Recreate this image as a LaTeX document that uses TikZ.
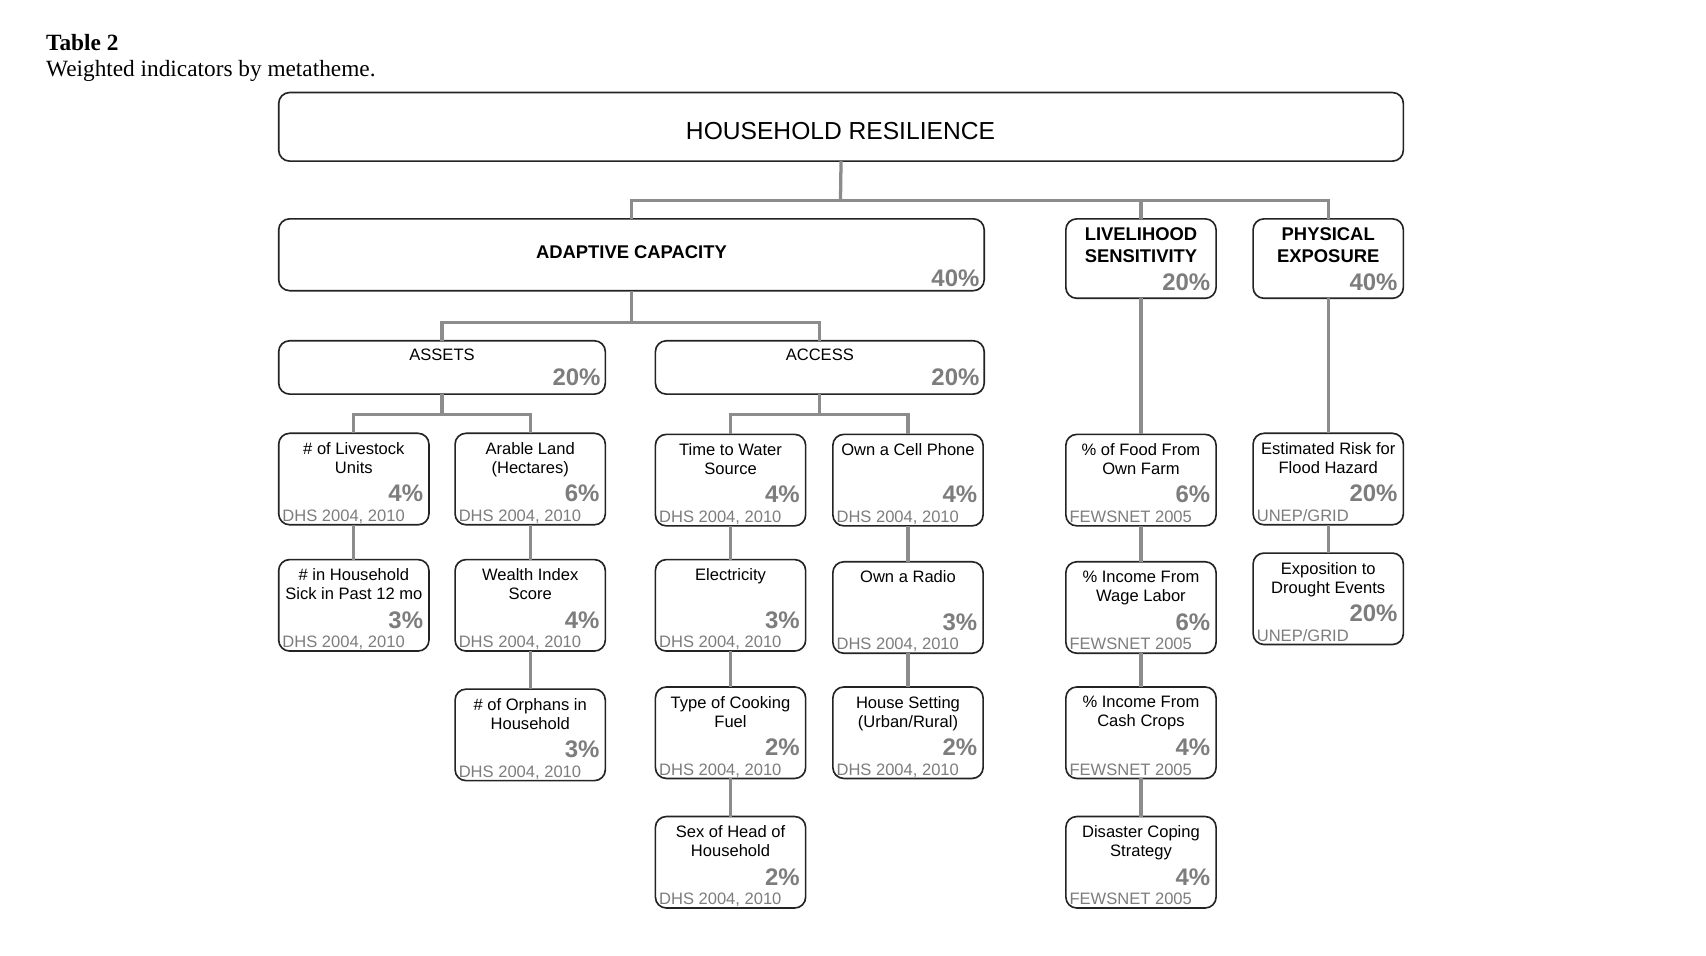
\documentclass[tikz,border=0pt]{standalone}
\usepackage{fontspec}
\setmainfont{Liberation Sans}
\newfontfamily\capfont{Liberation Serif}
\usepackage{xcolor}
\definecolor{linegray}{RGB}{140,140,140}
\definecolor{pctgray}{RGB}{125,125,125}
\definecolor{boxline}{RGB}{35,35,35}

% indicator box: name, left, top, title, weight, source
\newcommand{\indicator}[6]{%
  \node[indbox] (#1) at (#2,#3) {};
  \node[indtitle] at ([yshift=-4pt]#1.north) {#4};
  \node[weight] at ([xshift=-2.5pt,yshift=10.5pt]#1.south east) {#5};
  \node[source] at ([xshift=1.5pt,yshift=1.5pt]#1.south west) {#6};
}

\begin{document}
\begin{tikzpicture}[x=0.5pt,y=-0.5pt,
    bigbox/.style={draw=boxline, line width=0.75pt, rounded corners=5pt, inner sep=0, outer sep=0, anchor=north west},
    indbox/.style={bigbox, minimum width=69pt, minimum height=42pt},
    indtitle/.style={anchor=north, inner sep=0, align=center, font=\fontsize{7.6}{8.75}\selectfont},
    headtitle/.style={anchor=north, inner sep=0, align=center, font=\fontsize{8.45}{10}\selectfont\bfseries},
    weight/.style={anchor=base east, inner sep=0, text=pctgray, font=\fontsize{11}{13}\selectfont\bfseries},
    source/.style={anchor=base west, inner sep=0, text=pctgray, font=\fontsize{7.6}{9}\selectfont},
    conn/.style={draw=linegray, line width=1.5pt}]
    	\fill[white] (0,0) rectangle (1567,878);
    	\useasboundingbox (0,0) rectangle (1567,878);

    	% caption
    	\node[anchor=base west, inner sep=0, font=\capfont\fontsize{10.7}{12}\selectfont\bfseries] (tabnum) at (42,46) {Table 2};
    	\node[anchor=base west, inner sep=0, font=\capfont\fontsize{10.7}{12}\selectfont] (caption) at (42,70) {Weighted indicators by metatheme.};

    	% metathemes
    	\node[bigbox, minimum width=516.5pt, minimum height=31.5pt] (root) at (256,85) {};
    	\node[font=\fontsize{11.3}{13}\selectfont, inner sep=0] at (772,120) {HOUSEHOLD RESILIENCE};
    	\node[bigbox, minimum width=324pt, minimum height=33pt] (ac) at (256,201) {};
    	\node[font=\fontsize{8.45}{10}\selectfont\bfseries, inner sep=0] at (580,232) {ADAPTIVE CAPACITY};
    	\node[weight] at ([xshift=-2pt,yshift=2pt]ac.south east) {40\%};
    	\node[bigbox, minimum width=69pt, minimum height=36.5pt] (ls) at (979,201) {};
    	\node[headtitle] at ([yshift=-4pt]ls.north) {LIVELIHOOD\\SENSITIVITY};
    	\node[weight] at ([xshift=-2.5pt,yshift=3.5pt]ls.south east) {20\%};
    	\node[bigbox, minimum width=69pt, minimum height=36.5pt] (pe) at (1151,201) {};
    	\node[headtitle] at ([yshift=-4pt]pe.north) {PHYSICAL\\EXPOSURE};
    	\node[weight] at ([xshift=-2.5pt,yshift=3.5pt]pe.south east) {40\%};

    	% themes
    	\node[bigbox, minimum width=150pt, minimum height=24.5pt] (assets) at (256,313) {};
    	\node[indtitle] at ([yshift=-3.5pt]assets.north) {ASSETS};
    	\node[weight] at ([xshift=-2pt,yshift=4pt]assets.south east) {20\%};
    	\node[bigbox, minimum width=151pt, minimum height=24.5pt] (access) at (602,313) {};
    	\node[indtitle] at ([yshift=-3.5pt]access.north) {ACCESS};
    	\node[weight] at ([xshift=-2pt,yshift=4pt]access.south east) {20\%};

    	% indicators
    	\indicator{livestock}{256}{398}{\# of Livestock\\Units}{4\%}{DHS 2004, 2010}
    	\indicator{arable}{418}{398}{Arable Land\\(Hectares)}{6\%}{DHS 2004, 2010}
    	\indicator{water}{602}{399}{Time to Water\\Source}{4\%}{DHS 2004, 2010}
    	\indicator{cell}{765}{399}{Own a Cell Phone}{4\%}{DHS 2004, 2010}
    	\indicator{food}{979}{399}{\% of Food From\\Own Farm}{6\%}{FEWSNET 2005}
    	\indicator{flood}{1151}{398}{Estimated Risk for\\Flood Hazard}{20\%}{UNEP/GRID}
    	\indicator{sick}{256}{514}{\# in Household\\Sick in Past 12 mo}{3\%}{DHS 2004, 2010}
    	\indicator{wealth}{418}{514}{Wealth Index\\Score}{4\%}{DHS 2004, 2010}
    	\indicator{elec}{602}{514}{Electricity}{3\%}{DHS 2004, 2010}
    	\indicator{radio}{765}{516}{Own a Radio}{3\%}{DHS 2004, 2010}
    	\indicator{wage}{979}{516}{\% Income From\\Wage Labor}{6\%}{FEWSNET 2005}
    	\indicator{drought}{1151}{508}{Exposition to\\Drought Events}{20\%}{UNEP/GRID}
    	\indicator{orphans}{418}{633}{\# of Orphans in\\Household}{3\%}{DHS 2004, 2010}
    	\indicator{cooking}{602}{631}{Type of Cooking\\Fuel}{2\%}{DHS 2004, 2010}
    	\indicator{setting}{765}{631}{House Setting\\(Urban/Rural)}{2\%}{DHS 2004, 2010}
    	\indicator{cash}{979}{631}{\% Income From\\Cash Crops}{4\%}{FEWSNET 2005}
    	\indicator{sexhead}{602}{750}{Sex of Head of\\Household}{2\%}{DHS 2004, 2010}
    	\indicator{coping}{979}{750}{Disaster Coping\\Strategy}{4\%}{FEWSNET 2005}

    	% connectors
    	\coordinate (rootbar) at (772,184);
    	\coordinate (acbar) at (580,296);
    	\coordinate (assetsbar) at (406,381);
    	\coordinate (accessbar) at (753,381);
    	\draw[conn] (root.south) -- (rootbar);
    	\draw[conn] (ac.north) |- (rootbar) -| (pe.north);
    	\draw[conn] (ls.north) -- (ls.north |- rootbar);
    	\draw[conn] (ac.south) -- (acbar);
    	\draw[conn] (assets.north) |- (acbar) -| (access.north);
    	\draw[conn] (assets.south) -- (assetsbar);
    	\draw[conn] (livestock.north) |- (assetsbar) -| (arable.north);
    	\draw[conn] (access.south) -- (accessbar);
    	\draw[conn] (water.north) |- (accessbar) -| (cell.north);
    	\foreach \a/\b in {livestock/sick, arable/wealth, wealth/orphans, water/elec, elec/cooking,
    	    cooking/sexhead, cell/radio, radio/setting, ls/food, food/wage, wage/cash, cash/coping,
    	    pe/flood, flood/drought}
    	    \draw[conn] (\a.south) -- (\b.north);
\end{tikzpicture}
\end{document}
